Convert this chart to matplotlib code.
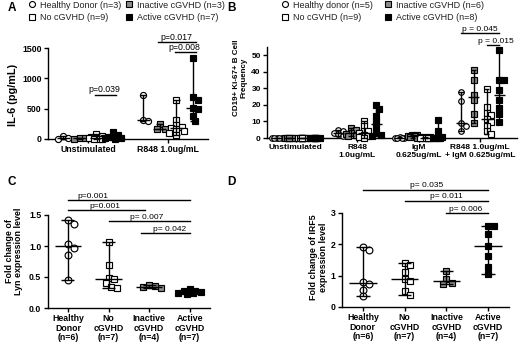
import numpy as np
import matplotlib
matplotlib.use("Agg")
import matplotlib.pyplot as plt
from matplotlib.lines import Line2D

plt.rcParams["font.family"] = ["Liberation Sans", "DejaVu Sans"]

DPI = 100
W, H = 520, 346
GRAY = "#8c8c8c"
STYLE = {
    "HD": ("o", "white"),
    "No": ("s", "white"),
    "Inactive": ("s", GRAY),
    "Active": ("s", "black"),
}

# ---- panel A: IL-6 ----
A_CONDITIONS = ["Unstimulated", "R848 1.0ug/mL"]
A_SERIES = ["HD", "Inactive", "No", "Active"]
A_HD = [[50, 15, 5], [730, 310, 290]]
A_INACTIVE = [[20, 10, 5], [240, 170, 160]]
A_NO = [[80, 50, 30, 20, 15, 10, 5, 5, 0],
        [640, 320, 230, 200, 180, 170, 140, 100, 60]]
A_ACTIVE = [[110, 60, 40, 25, 15, 10, 5],
            [1330, 700, 650, 510, 490, 380, 300]]
A_LEGEND = ["Healthy Donor (n=3)", "No cGVHD (n=9)",
            "Inactive cGVHD (n=3)", "Active cGVHD (n=7)"]
A_YTICKS = [0, 500, 1000, 1500]
A_PVALS = [(0, "No", "Active", 730, "p=0.039"),
           (1, "Inactive", "Active", 1600, "p=0.017"),
           (1, "No", "Active", 1430, "p=0.008")]

# ---- panel B: CD19+ Ki-67+ ----
B_CONDITIONS = ["Unstimulated", "R848\n1.0ug/mL", "IgM\n0.625ug/mL",
                "R848 1.0ug/mL\n+ IgM 0.625ug/mL"]
B_SERIES = ["HD", "Inactive", "No", "Active"]
B_HD = [[0, 0, 0, 0, 0], [5, 4, 3, 2.5, 1.5], [0.5, 0.3, 0.2, 0.1, 0],
        [27.5, 22.5, 9.2, 7, 4]]
B_INACTIVE = [[0, 0, 0, 0, 0, 0], [6, 5, 3, 2.5, 2, 1],
              [2, 1.8, 1.2, 1, 0.6, 0.3], [41, 35, 26, 23, 14.7, 9.2]]
B_NO = [[0, 0, 0, 0, 0, 0, 0, 0, 0], [10.5, 7.5, 4.5, 4, 3, 2, 1, 0.5, 0],
        [0.8, 0.5, 0.4, 0.3, 0.2, 0.1, 0.1, 0, 0],
        [29.6, 18.8, 15.3, 13.7, 11.2, 9.8, 7.1, 4.1, 2.4]]
B_ACTIVE = [[0, 0, 0, 0, 0, 0, 0, 0], [20, 17.5, 13, 10, 6.5, 3, 2, 1],
            [11, 4.5, 1, 0.5, 0.3, 0.2, 0.1, 0],
            [53, 34.7, 34.7, 29, 23, 18, 14.3, 9.8]]
B_LEGEND = ["Healthy donor (n=5)", "No cGVHD (n=9)",
            "Inactive cGVHD (n=6)", "Active cGVHD (n=8)"]
B_YTICKS = [0, 10, 20, 30, 40, 50]
B_PVALS = [(3, "HD", "Active", 63, "p = 0.045"),
           (3, "No", "Active", 56, "p = 0.015")]

# ---- panels C / D: Lyn and IRF5 ----
CD_GROUPS = ["Healthy\nDonor\n(n=6)", "No\ncGVHD\n(n=7)",
             "Inactive\ncGVHD\n(n=4)", "Active\ncGVHD\n(n=7)"]
CD_SERIES = ["HD", "No", "Inactive", "Active"]
C_VALUES = [[1.42, 1.35, 1.04, 0.96, 0.85, 0.45],
            [1.07, 0.70, 0.49, 0.46, 0.40, 0.34, 0.33],
            [0.37, 0.35, 0.34, 0.32],
            [0.30, 0.28, 0.27, 0.26, 0.25, 0.24, 0.22]]
C_YTICKS = [0.0, 0.5, 1.0, 1.5]
C_PVALS = [(0, 3, 1.74, "p=0.001", 0.61), (0, 1.9, 1.58, "p=0.001", 0.9),
           (1, 3, 1.40, "p= 0.007", 1.94), (1.8, 3, 1.21, "p= 0.042", 2.5)]
D_VALUES = [[1.90, 1.83, 0.80, 0.73, 0.55, 0.34],
            [1.40, 1.33, 1.12, 0.89, 0.82, 0.50, 0.37],
            [1.14, 0.89, 0.77, 0.73],
            [2.60, 2.58, 2.33, 1.94, 1.64, 1.27, 1.06]]
D_YTICKS = [0, 1, 2, 3]
D_PVALS = [(0, 3, 3.74, "p= 0.035", 1.53), (1, 3, 3.39, "p= 0.011", 2.0),
           (2, 3, 3.0, "p= 0.006", 2.45)]

OFFSETS = {"HD": -0.31, "Inactive": -0.105, "No": 0.105, "Active": 0.31}


def swarm_x(ax, x0, vals, ms, max_half_px):
    vals = np.asarray(vals, float)
    d = ms * DPI / 72.0 * 0.85
    ys = ax.transData.transform(np.column_stack([np.full(len(vals), x0), vals]))[:, 1]
    ppu = ax.transData.transform((1, 0))[0] - ax.transData.transform((0, 0))[0]
    step = d * 0.5
    cands = [0.0]
    for k in range(1, int(max_half_px // step) + 1):
        cands += [k * step, -k * step]
    placed = []
    offs = np.zeros(len(vals))
    for i in np.argsort(-vals, kind="stable"):
        best, best_gap = 0.0, -1.0
        for c in cands:
            gap = min((np.hypot(c - px, ys[i] - py) for px, py in placed), default=np.inf)
            if gap >= d:
                best = c
                break
            if gap > best_gap:
                best, best_gap = c, gap
        placed.append((best, ys[i]))
        offs[i] = best
    return x0 + offs / ppu


def draw_group(ax, x0, vals, series, ms, spread_px, med_hw, cap_hw):
    marker, face = STYLE[series]
    xs = swarm_x(ax, x0, vals, ms, spread_px)
    ax.plot(xs, vals, linestyle="none", marker=marker, ms=ms, mfc=face,
            mec="black", mew=0.85, clip_on=False, zorder=3)
    v = np.asarray(vals, float)
    lo, hi, med = v.min(), v.max(), np.median(v)
    kw = dict(color="black", lw=1.0, clip_on=False, zorder=4)
    ax.vlines(x0, lo, hi, **kw)
    ax.hlines(med, x0 - med_hw, x0 + med_hw, **kw)
    ax.hlines([lo, hi], x0 - cap_hw, x0 + cap_hw, **kw)


def style_axes(ax, xticks, xlabels, yticks, ylabels, fs):
    for s in ["top", "right"]:
        ax.spines[s].set_visible(False)
    for s in ["left", "bottom"]:
        ax.spines[s].set_linewidth(1.0)
    ax.tick_params(width=1.0, length=3, pad=1.5)
    ax.set_xticks(xticks)
    ax.set_xticklabels(xlabels, fontsize=fs, fontweight="bold", linespacing=1.05)
    ax.set_yticks(yticks)
    ax.set_yticklabels(ylabels, fontsize=fs, fontweight="bold")


def bracket(ax, x1, x2, y, text, xt, fs):
    ax.plot([x1, x2], [y, y], color="black", lw=1.0, clip_on=False)
    ax.annotate(text, (xt, y), xytext=(0, 0.3), textcoords="offset points",
                ha="center", va="bottom", fontsize=fs, annotation_clip=False)


def legend(fig, labels, x1_px, x2_px):
    fs = 6.5
    handles = [Line2D([], [], linestyle="none", marker=STYLE[s][0], mfc=STYLE[s][1],
                      mec="black", mew=0.8, ms=4.3)
               for s in ["HD", "No", "Inactive", "Active"]]
    hw = fs * DPI / 72.0  # handle width in px (handlelength=1)
    for k, xm in enumerate([x1_px, x2_px]):
        fig.legend(handles[2 * k:2 * k + 2], labels[2 * k:2 * k + 2], loc="upper left",
                   bbox_to_anchor=((xm - hw / 2) / W, 1 - 0.5 / H), frameon=False,
                   fontsize=fs, handletextpad=0.4, handlelength=1.0,
                   labelspacing=0.4, borderaxespad=0, borderpad=0,
                   labelcolor="#222222")


fig = plt.figure(figsize=(W / DPI, H / DPI), dpi=DPI)

# A
axA = fig.add_axes([48 / W, 1 - 139 / H, 160 / W, 91 / H])
axA.set_xlim(-0.5, 1.5)
axA.set_ylim(0, 1500)
style_axes(axA, range(len(A_CONDITIONS)), A_CONDITIONS, A_YTICKS,
           [str(t) for t in A_YTICKS], 6.3)
for s, data in zip(A_SERIES, [A_HD, A_INACTIVE, A_NO, A_ACTIVE]):
    for ci, vals in enumerate(data):
        draw_group(axA, ci + OFFSETS[s], vals, s, 4.4, 8, 0.08, 0.04)
for ci, s1, s2, y, txt in A_PVALS:
    x1, x2 = ci + OFFSETS[s1], ci + OFFSETS[s2]
    bracket(axA, x1 - 0.02, x2 + 0.04, y, txt, (x1 + x2) / 2, 6.3)
axA.set_ylabel("IL-6 (pg/mL)", fontsize=7.8, fontweight="bold")
axA.yaxis.set_label_coords(-0.19, 0.48)
legend(fig, A_LEGEND, 32, 129)

# B
axB = fig.add_axes([267 / W, 1 - 138 / H, 250 / W, 91.3 / H])
axB.set_xlim(-0.47, 3.6)
axB.set_ylim(0, 55)
style_axes(axB, range(len(B_CONDITIONS)), B_CONDITIONS, B_YTICKS,
           [str(t) for t in B_YTICKS], 6.0)
for s, data in zip(B_SERIES, [B_HD, B_INACTIVE, B_NO, B_ACTIVE]):
    for ci, vals in enumerate(data):
        draw_group(axB, ci + OFFSETS[s], vals, s, 4.0, 7, 0.09, 0.045)
for ci, s1, s2, y, txt in B_PVALS:
    x1, x2 = ci + OFFSETS[s1], ci + OFFSETS[s2]
    bracket(axB, x1, x2, y, txt, (x1 + x2) / 2 if s1 == "HD" else x2 - 0.06, 6.0)
axB.set_ylabel("CD19+ Ki-67+ B Cell\nFrequency", fontsize=5.8, fontweight="bold",
               linespacing=1.1)
axB.yaxis.set_label_coords(-0.08, 0.66)
legend(fig, B_LEGEND, 285, 388)

# C and D
for rect, vals_all, yticks, ylab, pvals, lab_xy, ylim, fmt in [
    ([47.6 / W, 1 - 308 / H, 162.4 / W, 93 / H], C_VALUES, C_YTICKS,
     "Fold change of\nLyn expression level", C_PVALS, (-0.15, 0.61), 1.5, "{:.1f}"),
    ([342 / W, 1 - 307 / H, 167 / W, 94 / H], D_VALUES, D_YTICKS,
     "Fold change of IRF5\nexpression level", D_PVALS, (-0.084, 0.53), 3, "{:d}"),
]:
    ax = fig.add_axes(rect)
    ax.set_xlim(-0.5, 3.5)
    ax.set_ylim(0, ylim)
    style_axes(ax, range(len(CD_GROUPS)), CD_GROUPS, yticks,
               [fmt.format(t) for t in yticks], 6.3)
    for gi, (s, vals) in enumerate(zip(CD_SERIES, vals_all)):
        draw_group(ax, gi, vals, s, 4.9, 14, 0.33, 0.16)
    for x1, x2, y, txt, xt in pvals:
        bracket(ax, x1, x2, y, txt, xt, 6.0)
    ax.set_ylabel(ylab, fontsize=6.4, fontweight="bold", linespacing=1.1)
    ax.yaxis.set_label_coords(*lab_xy)

for letter, x, y in [("A", 12, 8), ("B", 231, 8), ("C", 12, 182), ("D", 231, 182)]:
    fig.text(x / W, 1 - y / H, letter, fontsize=8.5, fontweight="bold",
             ha="center", va="center")

fig.savefig("out.png", dpi=DPI)
